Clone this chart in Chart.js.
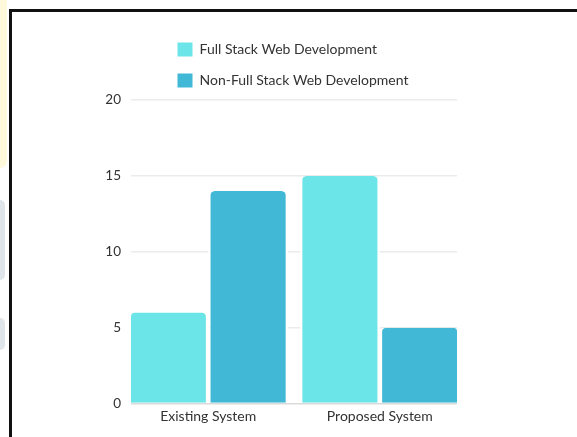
<!DOCTYPE html>
<html>
<head>
<meta charset="utf-8">
<script src="https://cdn.jsdelivr.net/npm/chart.js@4/dist/chart.umd.min.js"></script>
<style>
    html, body { margin: 0; padding: 0; background: #fff; }
    body { width: 577px; height: 437px; overflow: hidden; position: relative; }
    .frame { position: absolute; left: 9px; top: 9px; width: 620px; height: 480px; border: 3px solid #111; box-sizing: border-box; }
    .side { position: absolute; left: 0; }
    .side.yellow { top: 0; width: 7px; height: 168px; background: #fff9dc; border-bottom-right-radius: 7px; }
    .side.grey1 { top: 200px; width: 5px; height: 80px; background: #dfe5e8; border-radius: 0 5px 5px 0; }
    .side.grey2 { top: 318px; width: 5px; height: 32px; background: #dfe5e8; border-radius: 0 5px 5px 0; }
    #chart { position: absolute; left: 0; top: 0; }
</style>
</head>
<body>
<div class="side yellow"></div>
<div class="side grey1"></div>
<div class="side grey2"></div>
<div class="frame"></div>
<canvas id="chart" width="577" height="437"></canvas>
<script>
const categories = ["Existing System", "Proposed System"];
const seriesNames = ["Full Stack Web Development", "Non-Full Stack Web Development"];
const fullStack = [6, 15];
const nonFullStack = [14, 5];
const yTicks = [0, 5, 10, 15, 20];

const FONT = "Lato, 'Open Sans', sans-serif";
const colors = ["#6ce5e8", "#41b8d5"];

// legend drawn as two stacked rows, like the original
const stackedLegend = {
    id: "stackedLegend",
    afterDraw(chart) {
        const ctx = chart.ctx;
        ctx.save();
        ctx.font = "14px " + FONT;
        ctx.textBaseline = "middle";
        ctx.textAlign = "left";
        chart.data.datasets.forEach((ds, i) => {
            const y = 49.5 + i * 31;
            ctx.fillStyle = ds.backgroundColor;
            ctx.fillRect(177.5, y - 7, 15, 14);
            ctx.fillStyle = "#333";
            ctx.fillText(ds.label, 199.5, y);
        });
        ctx.restore();
    }
};

function makeDataset(label, values, color) {
    return {
        label: label,
        data: values.map((v, i) => ({ x: i, y: v })),
        backgroundColor: color,
        borderColor: "#fff",
        borderWidth: { left: 2.35, right: 2.35, top: 0, bottom: 0 },
        borderSkipped: "start",
        borderRadius: { topLeft: 6.5, topRight: 6.5 },
        categoryPercentage: 0.93,
        barPercentage: 1
    };
}

new Chart(document.getElementById("chart"), {
    type: "bar",
    data: {
        datasets: [
            makeDataset(seriesNames[0], fullStack, colors[0]),
            makeDataset(seriesNames[1], nonFullStack, colors[1])
        ]
    },
    options: {
        responsive: false,
        animation: false,
        layout: {
            padding: { left: 101, right: 120, top: 100, bottom: 12.5 }
        },
        plugins: {
            legend: { display: false },
            tooltip: { enabled: false }
        },
        scales: {
            x: {
                type: "linear",
                offset: false,
                min: -0.45,
                max: 1.45,
                afterBuildTicks: s => { s.ticks = categories.map((_, i) => ({ value: i })); },
                afterFit: s => { s.height = 21; },
                grid: { display: false, drawTicks: false, offset: false },
                border: { display: false },
                ticks: {
                    padding: 5,
                    color: "#333",
                    font: { family: FONT, size: 14 },
                    callback: v => categories[v]
                }
            },
            y: {
                min: yTicks[0],
                max: yTicks[yTicks.length - 1],
                afterBuildTicks: s => { s.ticks = yTicks.map(v => ({ value: v })); },
                afterFit: s => { s.width = 30; },
                grid: {
                    drawTicks: false,
                    lineWidth: 1.5,
                    color: c => c.tick.value === 0 ? "#dadada" : "#ebebeb"
                },
                border: { display: false },
                ticks: {
                    padding: 10,
                    color: "#333",
                    font: { family: FONT, size: 13.5 }
                }
            }
        }
    },
    plugins: [stackedLegend]
});
</script>
</body>
</html>
